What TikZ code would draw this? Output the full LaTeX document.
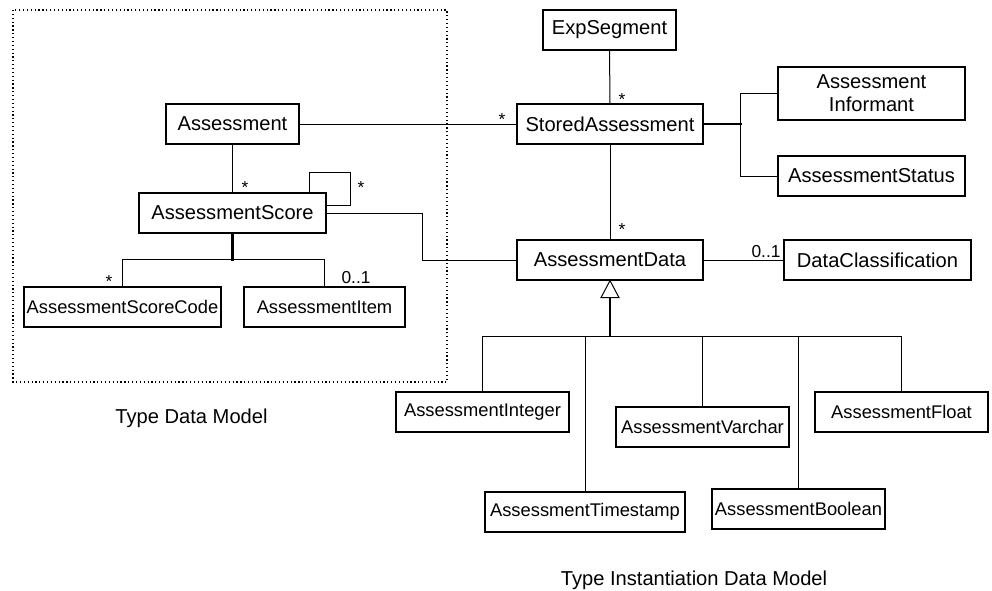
\documentclass[tikz,border=0pt]{standalone}
\usepackage{fontspec}
\setmainfont{Liberation Sans}
\usepackage{tikz}
\usetikzlibrary{calc}

\begin{document}
\begin{tikzpicture}[x=0.75pt,y=-0.75pt,
    cls/.style={draw, line width=0.9pt, inner sep=0pt, minimum height=30pt,
        font=\fontsize{15.1pt}{17.25pt}\selectfont},
    subcls/.style={cls, font=\fontsize{13.75pt}{16pt}\selectfont},
    mult/.style={anchor=base, inner sep=0pt, font=\fontsize{13pt}{15pt}\selectfont},
    caption/.style={anchor=base, inner sep=0pt, font=\fontsize{15.1pt}{18pt}\selectfont},
    link/.style={line width=0.75pt},
    boldlink/.style={line width=1.6pt}]
            \useasboundingbox (0,0) rectangle (992,590);

            % type data model
            \draw[dotted, line width=0.9pt] (13,10) rectangle (447,382);
            \node[cls, minimum width=99.75pt] (assess) at (232.5,124) {Assessment};
            \node[cls, minimum width=140.25pt] (score) at (232.5,213) {AssessmentScore};
            \node[subcls, minimum width=147.75pt] (scorecode) at (122.5,307) {AssessmentScoreCode};
            \node[subcls, minimum width=120.75pt] (item) at (324.5,307) {AssessmentItem};
            \node[caption] (typelbl) at (191.5,423) {Type Data Model};

            % instantiation data model
            \node[cls, minimum width=99.75pt] (expseg) at (609.5,30) {ExpSegment};
            \node[cls, minimum width=139.5pt] (stored) at (610,124) {StoredAssessment};
            \node[cls, minimum width=140.25pt, minimum height=39.75pt, align=center] (informant) at (871.5,93.5) {Assessment\\Informant};
            \node[cls, minimum width=140.25pt] (status) at (871.5,176) {AssessmentStatus};
            \node[cls, minimum width=139.5pt] (data) at (610,260) {AssessmentData};
            \node[cls, minimum width=140.25pt] (datacls) at (877.5,260) {DataClassification};
            \node[subcls, minimum width=129.75pt] (integer) at (482.5,412) {AssessmentInteger};
            \node[subcls, minimum width=150pt] (timestamp) at (585,512) {AssessmentTimestamp};
            \node[subcls, minimum width=129.75pt] (varchar) at (702.5,427) {AssessmentVarchar};
            \node[subcls, minimum width=129.75pt] (boolean) at (798.5,509) {AssessmentBoolean};
            \node[subcls, minimum width=129.75pt] (float) at (901.5,412) {AssessmentFloat};
            \node[caption] (instlbl) at (694,585) {Type Instantiation Data Model};

            % associations
            \draw[link] (assess) -- (stored); % assess-stored
            \draw[link] (assess) -- (score); % assess-score
            \draw[link] ($(score.north east)+(-17,0)$) -- ++(0,-20) -| ($(score.east)+(24,-8)$) -- ($(score.east)+(0,-8)$); % score-score
            \draw[link] (score.east) -- ++(96,0) |- (data.west); % score-data
            \draw[boldlink] (score.south) -- ++(0,27);
            \draw[link] (scorecode.north) -- ++(0,-27) -| (item.north); % score-code, score-item
            \draw[link] (expseg) -- (stored); % expseg-stored
            \draw[link] (stored) -- (data); % stored-data
            \draw[boldlink] (stored.east) -- ++(38,0);
            \draw[link] (informant.west) -- ++(-37,0) |- (status.west); % stored-informant, stored-status
            \draw[link] (data) -- (datacls); % data-datacls

            % generalization
            \draw[link] (data.south) -- ++(-9,17) -- ++(18,0) -- cycle;
            \draw[boldlink] ($(data.south)+(0,17)$) -- ++(0,39) coordinate (gen);
            \draw[link] (integer.north) -- (integer.north |- gen) -- (float.north |- gen) -- (float.north);
            \foreach \sub in {timestamp,varchar,boolean}
                \draw[link] (\sub.north) -- (\sub.north |- gen);

            % multiplicities
            \node[mult] (m1) at (245,193) {*};
            \node[mult] (m2) at (361,193) {*};
            \node[mult] (m3) at (109,287) {*};
            \node[mult] (m4) at (356,283) {0..1};
            \node[mult] (m5) at (622,105) {*};
            \node[mult] (m6) at (502,125) {*};
            \node[mult] (m7) at (622,235) {*};
            \node[mult] (m8) at (766,257) {0..1};
        \end{tikzpicture}
\end{document}
